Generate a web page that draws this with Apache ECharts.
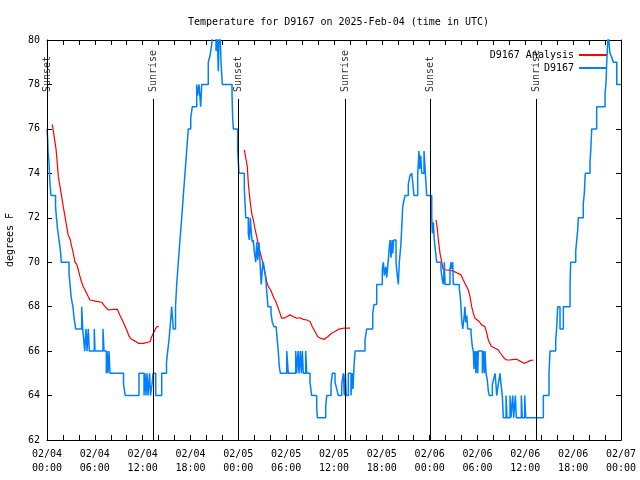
<!DOCTYPE html>
<html>
<head>
<meta charset="utf-8">
<script src="https://cdn.jsdelivr.net/npm/echarts@6/dist/echarts.min.js"></script>
<style>html,body{margin:0;padding:0;background:#fff}#c{width:640px;height:480px}</style>
</head>
<body>
<div id="c"></div>
<script>
// x values: hours since 2025-02-04 00:00 UTC
const titleText = 'Temperature for D9167 on 2025-Feb-04 (time in UTC)';
const yTicks = [62, 64, 66, 68, 70, 72, 74, 76, 78, 80];
const dayLabels = ['02/04', '02/05', '02/06', '02/07'];

// observed D9167 temperature (degrees F), [hour, value]
const obsD9167 = [
[0.00,76],[0.09,75.5],[0.13,75],[0.25,74.5],[0.31,74],[0.38,73.5],[0.50,73],[1.07,72.5],[1.19,72],[1.32,71.5],
[1.51,71],[1.69,70.5],[1.79,70],[2.76,69.5],[2.89,69],[3.01,68.5],[3.14,68.2],[3.26,68],[3.39,67.5],[3.60,67],
[4.35,68],[4.48,67],[4.73,66],[4.89,67],[5.02,66],[5.18,67],[5.31,66],[5.93,67],[6.02,66],[7.02,67],
[7.15,66],[7.44,65],[7.53,66],[7.65,65],[7.78,66],[7.90,65],[9.60,64.5],[9.82,64],[11.54,65],[12.17,64],
[12.29,65],[12.42,64],[12.54,65],[12.67,64],[12.86,65],[12.98,64],[13.17,64.5],[13.30,65],[13.64,64],[14.39,65],
[14.99,65.5],[15.14,66],[15.30,66.5],[15.43,67],[15.64,68],[15.84,67],[16.12,68],[16.27,69],[16.47,70],[16.68,71],
[16.90,72],[17.10,73],[17.31,74],[17.52,75],[17.72,76],[18.03,76.5],[18.23,77],[18.78,78],[18.90,77.5],[19.07,78],
[19.28,77],[19.41,78],[20.23,79],[20.45,79.3],[20.66,79.8],[20.86,80.5],[21.20,79.5],[21.32,80.5],[21.49,78.6],[21.58,80],
[21.70,80.5],[21.83,79],[21.99,78],[23.21,77.5],[23.29,76.5],[23.37,76],[23.92,75],[24.00,74.5],[24.08,74],[24.75,73.3],
[24.93,72],[25.25,71.3],[25.38,71],[25.50,72],[25.63,71.3],[25.75,70.9],[25.88,71],[26.00,70.5],[26.18,70],[26.31,70.9],
[26.43,70.1],[26.59,70.9],[26.76,69.7],[26.88,69],[27.01,69.7],[27.13,70],[27.26,69.7],[27.43,69.3],[27.56,68.7],[27.72,68],
[28.10,67.7],[28.26,67.3],[28.47,67.1],[28.76,67],[29.01,66],[29.14,65.3],[29.27,65],[30.07,66],[30.27,65],[31.20,66],
[31.32,65],[31.49,66],[31.61,65],[31.77,66],[31.90,65],[32.03,66],[32.15,65],[32.45,66],[32.58,65],[32.99,64.6],
[33.20,64],[33.83,63.5],[33.91,63],[34.96,63.5],[35.09,64],[35.63,64.5],[35.79,65],[36.13,64.6],[36.34,64.3],[36.54,64],
[36.97,64.5],[37.17,65],[37.29,64],[37.42,65],[37.54,64],[37.80,65],[38.13,64],[38.30,65],[38.38,64.3],[38.51,65.3],
[38.64,66],[39.89,66.5],[40.10,67],[40.86,67.7],[41.02,68.1],[41.36,69],[42.06,69.7],[42.19,70],[42.31,69.4],[42.49,69.8],
[42.61,69.3],[42.74,69.8],[42.90,70.5],[43.03,71],[43.15,70.2],[43.28,71],[43.36,70.4],[43.49,71],[43.78,70],[43.94,69.4],
[44.07,69],[44.19,70],[44.37,70.7],[44.49,71.5],[44.62,72.5],[44.78,72.8],[44.91,73],[45.32,73.5],[45.53,73.9],[45.75,74],
[45.87,73.6],[46.04,73],[46.50,74],[46.66,75],[46.75,74.2],[46.88,74.8],[47.00,74],[47.29,75],[47.46,74],[47.63,73],
[48.26,72],[48.33,71.3],[48.46,71.8],[48.58,71],[48.76,70.4],[48.88,70],[49.42,69.65],[49.59,69.2],[49.71,69],[49.84,70],
[49.93,69],[50.55,69.7],[50.68,70],[50.77,69.7],[50.89,70],[50.97,69],[51.72,68.8],[51.84,68.45],[51.93,68],[52.02,67.4],
[52.15,67],[52.31,67.5],[52.43,68],[52.52,67.3],[52.65,67.6],[52.77,67],[53.19,66.8],[53.35,66.2],[53.48,66],[53.56,65.2],
[53.69,66],[53.81,65],[53.90,66],[54.03,65],[54.10,66],[54.61,65],[54.73,66],[54.86,65],[54.94,66],[55.07,65],
[55.23,64.7],[55.36,64.2],[55.48,64],[55.86,64.5],[56.07,64.8],[56.20,65],[56.32,64.5],[56.41,64],[56.61,64.5],[56.82,65],
[56.95,64.5],[57.11,64],[57.24,63],[57.58,64],[57.70,63],[58.08,64],[58.20,63],[58.42,64],[58.54,63],[58.75,64],
[58.87,63],[59.50,64],[59.62,63],[59.92,64],[60.05,63],[62.26,64],[62.97,65],[63.10,66],[63.81,66.5],[63.94,67.1],
[64.06,68],[64.35,67],[64.77,68],[65.61,69],[65.69,70],[66.32,70.5],[66.45,71],[66.57,71.45],[66.65,72],[67.27,72.65],
[67.40,73.1],[67.52,74],[68.11,74.5],[68.20,75],[68.33,76],[68.95,77],[70.00,77.6],[70.12,78.05],[70.21,79],[70.33,79.85],
[70.41,80.3],[70.54,79.7],[70.62,79.4],[70.87,79.2],[71.04,79],[71.47,78],[72.00,78]
];

// D9167 Analysis (degrees F), three night-time segments, [hour, value]
const analysisNight1 = [
[0.66,76.2],[0.79,76.15],[0.88,75.7],[1.13,75.1],[1.29,74.45],[1.42,73.85],[1.63,73.4],[1.84,72.95],[2.04,72.5],[2.26,72.05],
[2.47,71.6],[2.67,71.2],[2.89,71.05],[3.10,70.7],[3.30,70.4],[3.51,70.0],[3.73,69.9],[3.93,69.65],[4.14,69.35],[4.35,69.1],
[4.55,68.9],[4.77,68.75],[4.98,68.6],[5.18,68.45],[5.39,68.3],[5.61,68.27],[6.23,68.24],[6.86,68.2],[7.28,68.0],[7.69,67.85],
[8.32,67.88],[8.82,67.88],[9.16,67.6],[9.57,67.3],[10.00,66.95],[10.32,66.65],[10.62,66.53],[11.04,66.45],[11.45,66.35],[12.08,66.35],
[12.29,66.4],[12.92,66.42],[13.13,66.65],[13.33,66.8],[13.55,66.95],[13.76,67.1],[14.01,67.1]
];
const analysisNight2 = [
[24.75,75.05],[24.93,75.05],[25.13,74.3],[25.25,73.55],[25.46,72.8],[25.68,72.2],[25.88,71.9],[26.09,71.5],[26.31,71.15],[26.51,70.78],
[26.72,70.47],[26.93,70.18],[27.13,69.88],[27.35,69.5],[27.56,69.12],[27.76,68.9],[28.06,68.75],[28.39,68.45],[28.69,68.23],[28.94,68.0],
[29.23,67.7],[29.44,67.48],[29.73,67.48],[30.07,67.55],[30.48,67.63],[30.90,67.55],[31.32,67.48],[31.74,67.5],[32.15,67.43],[32.58,67.4],
[32.99,67.33],[33.28,67.1],[33.62,66.88],[33.96,66.65],[34.37,66.57],[34.78,66.53],[35.21,66.65],[35.71,66.8],[36.13,66.88],[36.63,66.99],
[37.17,67.03],[38.01,67.03]
];
const analysisNight3 = [
[48.80,71.9],[48.96,71.52],[49.09,71.0],[49.30,70.4],[49.51,70.02],[49.71,69.65],[50.14,69.65],[50.77,69.62],[51.39,69.53],[51.93,69.43],
[52.22,69.2],[52.52,68.98],[52.85,68.75],[53.06,68.45],[53.27,68.0],[53.48,67.7],[53.69,67.48],[54.10,67.37],[54.53,67.18],[54.94,67.1],
[55.16,66.8],[55.36,66.5],[55.70,66.23],[56.20,66.13],[56.61,66.05],[56.95,65.87],[57.37,65.67],[57.67,65.6],[58.08,65.6],[58.49,65.63],
[58.92,65.63],[59.34,65.55],[59.87,65.45],[60.18,65.5],[60.59,65.57],[61.00,65.6]
];

const sunsetHours = [0.02, 23.96, 48.13];
const sunriseHours = [13.33, 37.38, 61.34];
const sunLineTop = 77.35;
const sunLabelBase = 77.66;

const analysisData = analysisNight1.concat([[14.5, null]], analysisNight2, [[38.5, null]], analysisNight3);

const FONT = 'DejaVu Sans Mono';
const black = '#000';

function sunSeries(name, hours) {
  return {
    type: 'scatter', name: name, silent: true,
    xAxisIndex: 0, yAxisIndex: 0,
    symbol: 'circle', symbolSize: 1,
    itemStyle: { color: 'rgba(0,0,0,0)' },
    data: hours.map(h => [h, sunLabelBase]),
    label: {
      show: true, formatter: name, position: 'inside', rotate: 90,
      align: 'left', verticalAlign: 'middle',
      fontFamily: FONT, fontSize: 10, color: black
    },
    markLine: {
      silent: true, symbol: ['none', 'none'], animation: false,
      label: { show: false },
      lineStyle: { color: black, width: 1, type: 'solid' },
      data: hours.map(h => [{ coord: [h, 62] }, { coord: [h, sunLineTop] }])
    },
    z: 5
  };
}

function xLabel(v) {
  if (v % 6 !== 0) return '';
  const d = Math.floor(v / 24);
  const hh = v % 24;
  return dayLabels[d] + '\n' + (hh < 10 ? '0' : '') + hh + ':00';
}

const chart = echarts.init(document.getElementById('c'), null, { renderer: 'canvas' });
chart.setOption({
  animation: false,
  backgroundColor: '#fff',
  title: {
    text: titleText, left: 183, top: 12,
    textStyle: { fontFamily: FONT, fontSize: 10, fontWeight: 'normal', color: black }
  },
  legend: {
    data: ['D9167 Analysis', 'D9167'],
    orient: 'vertical', align: 'right', right: 28, top: 44,
    itemWidth: 28, itemHeight: 2, itemGap: 1, icon: 'rect',
    textStyle: { fontFamily: FONT, fontSize: 10, color: black, lineHeight: 12 },
    selectedMode: false
  },
  grid: { left: 47, right: 19, top: 40, bottom: 40, containLabel: false, outerBoundsMode: 'none' },
  xAxis: [{
    type: 'value', min: 0, max: 72, interval: 2, position: 'bottom',
    axisLine: { show: true, lineStyle: { color: black, width: 1 } },
    axisTick: { show: true, inside: true, length: 5, lineStyle: { color: black } },
    axisLabel: { interval: 0, formatter: xLabel, fontFamily: FONT, fontSize: 10, color: black, lineHeight: 14, margin: 7 },
    splitLine: { show: false }
  }, {
    type: 'value', min: 0, max: 72, interval: 2, position: 'top',
    axisLine: { show: true, onZero: false, lineStyle: { color: black, width: 1 } },
    axisTick: { show: true, inside: true, length: 5, lineStyle: { color: black } },
    axisLabel: { show: false }, splitLine: { show: false }
  }],
  yAxis: [{
    type: 'value', min: 62, max: 80, interval: 2, position: 'left',
    name: 'degrees F', nameLocation: 'middle', nameGap: 32, nameRotate: 90,
    nameTextStyle: { fontFamily: FONT, fontSize: 10, color: black },
    axisLine: { show: true, lineStyle: { color: black, width: 1 } },
    axisTick: { show: true, inside: true, length: 5, lineStyle: { color: black } },
    axisLabel: { fontFamily: FONT, fontSize: 10, color: black, margin: 7 },
    splitLine: { show: false }
  }, {
    type: 'value', min: 62, max: 80, interval: 2, position: 'right',
    axisLine: { show: true, onZero: false, lineStyle: { color: black, width: 1 } },
    axisTick: { show: true, inside: true, length: 5, lineStyle: { color: black } },
    axisLabel: { show: false }, splitLine: { show: false }
  }],
  series: [
    {
      name: 'D9167 Analysis', type: 'line', xAxisIndex: 0, yAxisIndex: 0,
      data: analysisData, showSymbol: false, symbol: 'none', connectNulls: false,
      lineStyle: { color: '#ff0000', width: 1.2 }, itemStyle: { color: '#ff0000' }, z: 3
    },
    {
      name: 'D9167', type: 'line', xAxisIndex: 0, yAxisIndex: 0, step: 'end',
      data: obsD9167, showSymbol: false, symbol: 'none',
      lineStyle: { color: '#0080ff', width: 1.5 }, itemStyle: { color: '#0080ff' }, z: 4
    },
    sunSeries('Sunset', sunsetHours),
    sunSeries('Sunrise', sunriseHours)
  ]
});
</script>
</body>
</html>
